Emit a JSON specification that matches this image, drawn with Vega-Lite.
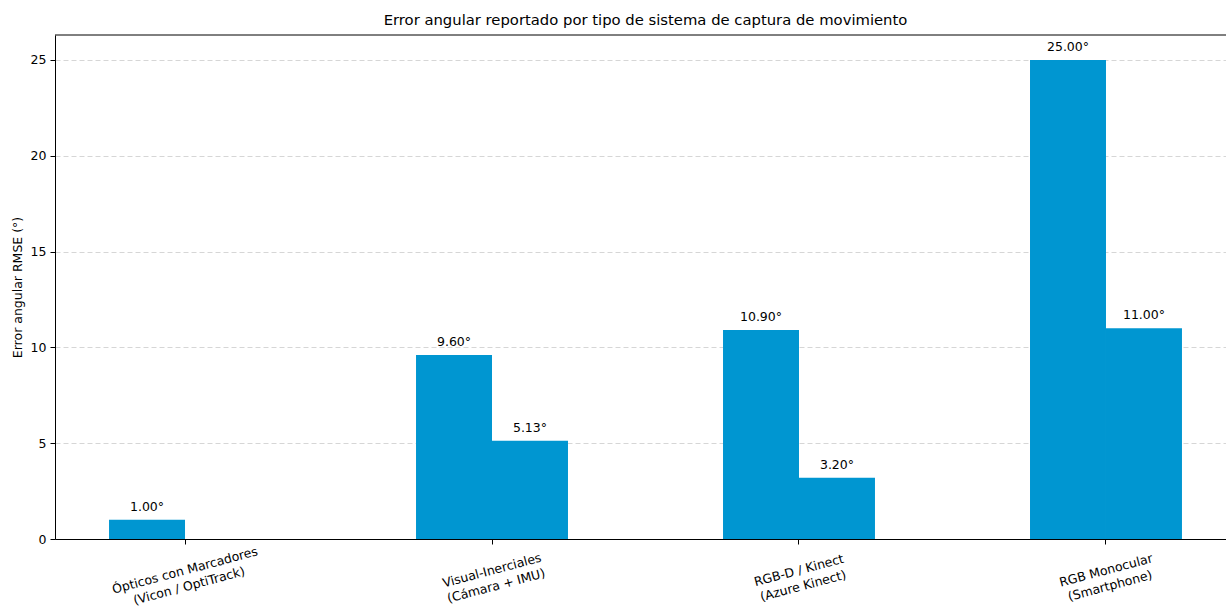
{
  "$schema": "https://vega.github.io/schema/vega-lite/v6.json",
  "width": 1171,
  "height": 504,
  "autosize": {"type": "none"},
  "padding": {"left": 55, "top": 35, "right": 0, "bottom": 69},
  "background": "white",
  "title": {
    "text": "Error angular reportado por tipo de sistema de captura de movimiento",
    "font": "DejaVu Sans",
    "fontSize": 14.8,
    "fontWeight": "normal",
    "color": "#000",
    "offset": 7,
    "dx": 5
  },
  "config": {"view": {"stroke": null}, "font": "DejaVu Sans"},
  "data": {
    "values": [
      {"sistema": "Ópticos con Marcadores\n(Vicon / OptiTrack)", "serie": "Serie 1", "error": 1.0},
      {"sistema": "Visual-Inerciales\n(Cámara + IMU)", "serie": "Serie 1", "error": 9.6},
      {"sistema": "Visual-Inerciales\n(Cámara + IMU)", "serie": "Serie 2", "error": 5.13},
      {"sistema": "RGB-D / Kinect\n(Azure Kinect)", "serie": "Serie 1", "error": 10.9},
      {"sistema": "RGB-D / Kinect\n(Azure Kinect)", "serie": "Serie 2", "error": 3.2},
      {"sistema": "RGB Monocular\n(Smartphone)", "serie": "Serie 1", "error": 25.0},
      {"sistema": "RGB Monocular\n(Smartphone)", "serie": "Serie 2", "error": 11.0}
    ]
  },
  "layer": [
    {
      "mark": {"type": "bar", "color": "#0096d1"},
      "encoding": {
        "x": {
          "field": "sistema",
          "type": "nominal",
          "sort": null,
          "scale": {"range": [0, 1181], "paddingInner": 0.505, "paddingOuter": 0.176},
          "axis": {
            "title": null,
            "labelAngle": -15,
            "labelAlign": "center",
            "labelBaseline": "middle",
            "labelPadding": 26,
            "labelExpr": "split(datum.label, '\\n')",
            "labelFont": "DejaVu Sans",
            "labelFontSize": 12.5,
            "labelColor": "#000",
            "labelLineHeight": 16,
            "labelLimit": 0,
            "labelOverlap": false,
            "tickSize": 5,
            "tickColor": "#000",
            "domainColor": "#000",
            "grid": false
          }
        },
        "xOffset": {"field": "serie", "type": "nominal", "scale": {"paddingInner": 0, "paddingOuter": 0}},
        "y": {
          "field": "error",
          "type": "quantitative",
          "scale": {"domain": [0, 26.3], "nice": false},
          "axis": {
            "title": "Error angular RMSE (°)",
            "titleFont": "DejaVu Sans",
            "titleFontSize": 12.5,
            "titleFontWeight": "normal",
            "titleColor": "#000",
            "titlePadding": 6,
            "values": [0, 5, 10, 15, 20, 25],
            "labelFont": "DejaVu Sans",
            "labelFontSize": 12.5,
            "labelColor": "#000",
            "labelPadding": 4,
            "tickSize": 5,
            "tickColor": "#000",
            "domainColor": "#000",
            "grid": true,
            "gridDash": [5, 3],
            "gridColor": "#cccccc",
            "gridWidth": 0.8
          }
        }
      }
    },
    {
      "mark": {
        "type": "text",
        "dy": -9,
        "baseline": "alphabetic",
        "align": "center",
        "font": "DejaVu Sans",
        "fontSize": 12.5,
        "color": "#000",
        "text": {"expr": "format(datum.error, '.2f') + '°'"}
      },
      "encoding": {
        "x": {"field": "sistema", "type": "nominal", "sort": null},
        "xOffset": {"field": "serie", "type": "nominal"},
        "y": {"field": "error", "type": "quantitative"}
      }
    },
    {
      "data": {"values": [{}]},
      "mark": {"type": "rule", "color": "#000", "strokeWidth": 1},
      "encoding": {"y": {"datum": 26.3}}
    }
  ]
}
